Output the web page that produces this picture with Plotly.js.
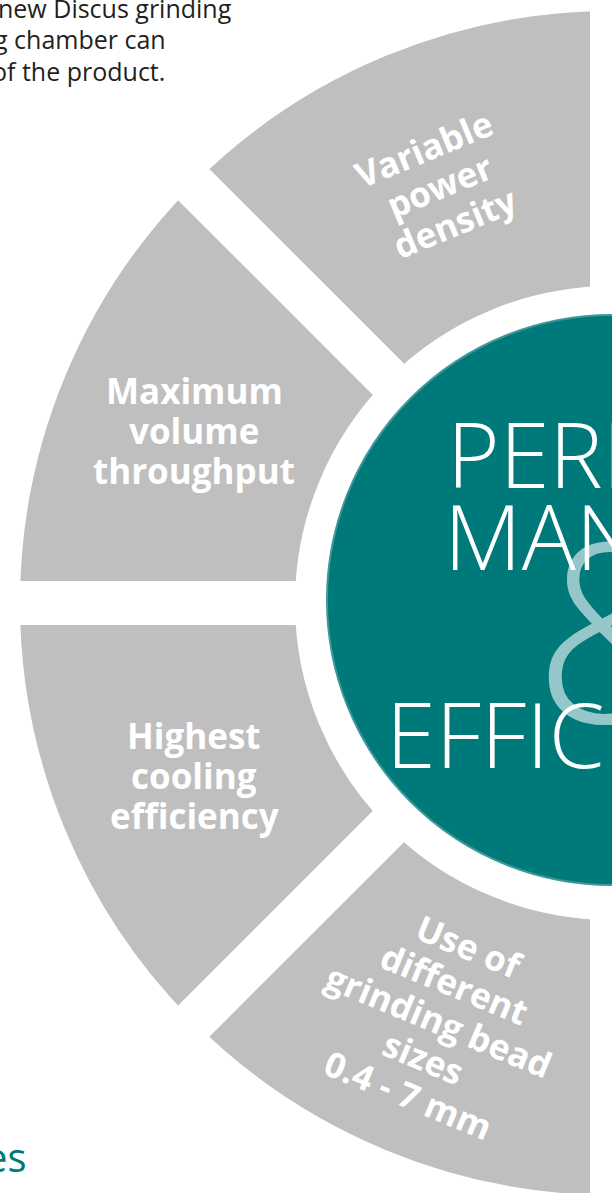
<!DOCTYPE html>
<html>
<head>
<meta charset="utf-8">
<script src="https://cdn.plot.ly/plotly-3.0.1.min.js"></script>
<style>
html, body { margin: 0; padding: 0; overflow: hidden; background: #ffffff; width: 612px; height: 1193px; }
#chart { position: absolute; left: -8px; top: -17px; width: 1240px; height: 1240px; }
</style>
</head>
<body>
<div id="chart"></div>
<script>
// ---------- data ----------
const featureLabels = [
  'Variable<br>power<br>density',
  'Maximum<br>volume<br>throughput',
  'Highest<br>cooling<br>efficiency',
  'Use of<br>different<br>grinding bead<br>sizes<br>0.4 - 7 mm'
];
const featureShares = [1, 1, 1, 1];
const offPageShare = [4];            // right half of the ring, outside the picture
const coreValue = [1];
const coreTitle = ['PERFOR', 'MANCE', '&', 'EFFICIENCY'];
const introLines = ['new Discus grinding', 'g chamber can', 'of the product.'];
const footerFragment = 'es';

// ---------- styles / geometry ----------
const FIG = 1240, OFF_X = -8, OFF_Y = -17;
const RING = { cx: 612, cy: 603, r: 614, hole: 295, gap: 44 };
const CORE = { cx: 612, cy: 600, r: 285 };
const LABEL_R = 452, LINE_STEP = 40, LABEL_SIZE = 35;
const GRAY = '#BFBFBF', TEAL = '#00797B', TEAL_EDGE = '#3E9799', TEAL_LIGHT = '#95C6C9', INK = '#231F20';
const labelOrientation = ['tangential', 'horizontal', 'horizontal', 'tangential'];

const px = sx => (sx - OFF_X) / FIG;
const py = sy => 1 - (sy - OFF_Y) / FIG;
const dom = c => ({ x: [px(c.cx - c.r), px(c.cx + c.r)], y: [py(c.cy + c.r), py(c.cy - c.r)] });

const ringValues = featureShares.concat(offPageShare);
const ringLabels = featureLabels.map(l => l.replace(/<br>/g, ' ')).concat(['other half']);
const total = ringValues.reduce((a, b) => a + b, 0);

// first feature starts at 12 o'clock and the ring runs counter-clockwise
const ring = {
  type: 'pie', values: ringValues, labels: ringLabels, sort: false,
  direction: 'counterclockwise', rotation: -(ringValues[0] / total * 360),
  hole: RING.hole / RING.r,
  marker: { colors: featureShares.map(() => GRAY).concat(['rgba(0,0,0,0)']),
            line: { color: '#ffffff', width: RING.gap } },
  textinfo: 'none', hoverinfo: 'skip', showlegend: false, domain: dom(RING)
};
const core = {
  type: 'pie', values: coreValue, labels: ['core'], sort: false,
  marker: { colors: [TEAL], line: { color: TEAL_EDGE, width: 2 } },
  textinfo: 'none', hoverinfo: 'skip', showlegend: false, domain: dom(CORE)
};

const annotations = [];
function addText(sx, sy, text, font, opts) {
  annotations.push(Object.assign({
    xref: 'paper', yref: 'paper', x: px(sx), y: py(sy), text: text,
    showarrow: false, font: font, xanchor: 'center', yanchor: 'middle'
  }, opts || {}));
}

// centre title (& behind the words)
addText(532, 626, coreTitle[2], { family: 'Open Sans', size: 250, weight: 300, color: TEAL_LIGHT }, { xanchor: 'left' });
const titleFont = { family: 'Open Sans', size: 90, weight: 300, color: '#ffffff' };
addText(445, 453, coreTitle[0], titleFont, { xanchor: 'left' });
addText(442, 535, coreTitle[1], titleFont, { xanchor: 'left' });
addText(384, 733, coreTitle[3], titleFont, { xanchor: 'left' });

// segment labels, placed at each slice's mid angle
let cum = 0;
featureShares.forEach((v, i) => {
  const mid = 90 + (cum + v / 2) / total * 360;
  cum += v;
  const rad = mid * Math.PI / 180;
  const cx = RING.cx + LABEL_R * Math.cos(rad);
  const cy = RING.cy - LABEL_R * Math.sin(rad);
  let ang = 0;
  if (labelOrientation[i] === 'tangential') {
    ang = 90 - mid;
    while (ang < -90) ang += 180;
    while (ang > 90) ang -= 180;
  }
  const a = ang * Math.PI / 180;
  const nx = -Math.sin(a), ny = Math.cos(a);
  const lines = featureLabels[i].split('<br>');
  lines.forEach((line, j) => {
    const off = (j - (lines.length - 1) / 2) * LINE_STEP;
    addText(cx + off * nx, cy + off * ny, line,
      { family: 'Open Sans', size: LABEL_SIZE, weight: 700, color: '#ffffff' },
      { textangle: ang });
  });
});

// cut-off intro paragraph and footer
const introFont = { family: 'Open Sans', size: 25, color: INK };
const introLeft = [-4, -8, -10], introMid = [8, 39, 71];
introLines.forEach((t, i) => addText(introLeft[i], introMid[i], t, introFont, { xanchor: 'left' }));
addText(29, 1156, footerFragment, { family: 'Open Sans', size: 40, color: TEAL }, { xanchor: 'right' });

const layout = {
  width: FIG, height: FIG, margin: { l: 0, r: 0, t: 0, b: 0 },
  paper_bgcolor: '#ffffff', plot_bgcolor: '#ffffff',
  showlegend: false, annotations: annotations
};
Plotly.newPlot('chart', [ring, core], layout, { displayModeBar: false, staticPlot: true });
</script>
</body>
</html>
